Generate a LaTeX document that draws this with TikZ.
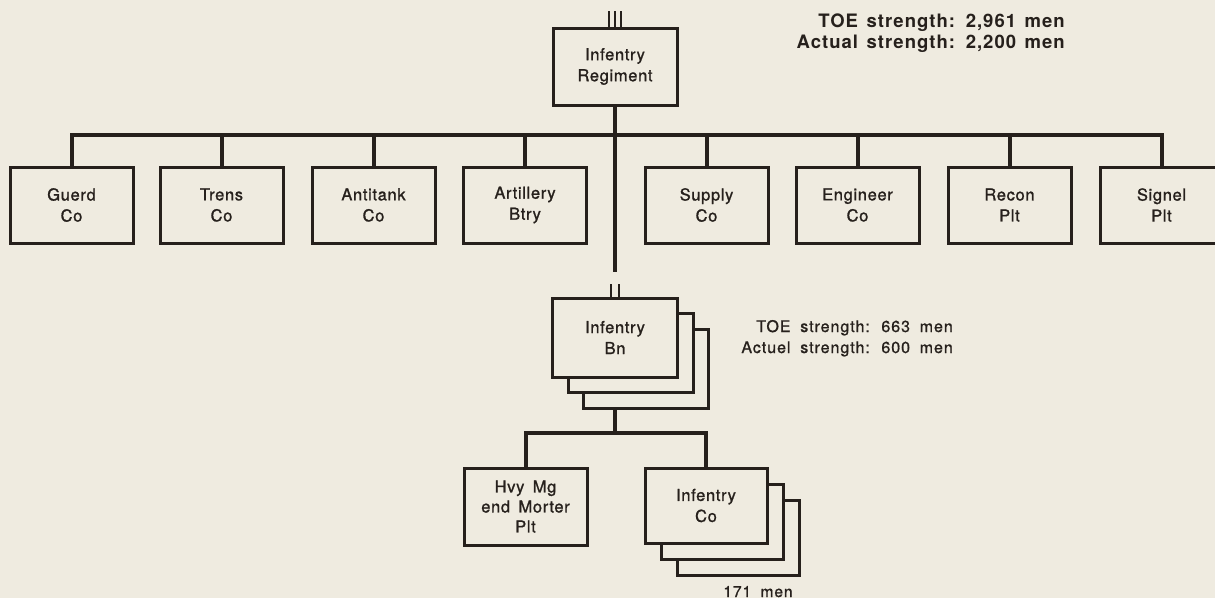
\documentclass[tikz,border=0pt]{standalone}
\usepackage{fontspec}
\setmainfont{TeX Gyre Heros}
\newfontfamily\boxfont[LetterSpace=4,WordSpace=1.6,FakeBold=1.2]{TeX Gyre Heros}
\newfontfamily\notefont[LetterSpace=6,WordSpace=1.8,FakeBold=1.0]{TeX Gyre Heros}
\newfontfamily\headfont[LetterSpace=5.5,WordSpace=1.4]{TeX Gyre Heros Bold}
\usetikzlibrary{calc}
\definecolor{ink}{RGB}{38,32,28}
\definecolor{paper}{RGB}{239,235,224}
\tikzset{
  orgbox/.style={draw=ink, line width=3pt, fill=paper, text=ink, align=center,
    minimum width=123pt, minimum height=76pt, inner sep=0pt,
    font=\boxfont\fontsize{16.5}{21}\selectfont},
  backbox/.style={orgbox},
  conn/.style={draw=ink, line width=4pt},
  echelon/.style={draw=ink, line width=2.6pt},
  note/.style={text=ink, inner sep=0pt},
}
\begin{document}
\begin{tikzpicture}[x=1pt,y=-1pt]
\useasboundingbox (0,0) rectangle (1215,598);
\fill[paper] (0,0) rectangle (1215,598);

% regiment
\node[orgbox, minimum width=124pt, minimum height=77pt] (reg) at (615,66.5) {Infentry\\Regiment};
\foreach \dx in {-6,0,6} \draw[echelon] ($(reg.north)+(\dx,0)$) -- ++(0,-16);

\node[note, anchor=base east, font=\headfont\fontsize{18.5}{21}\selectfont] (toe1) at (1065,27) {TOE strength: 2,961 men};
\node[note, anchor=base east, font=\headfont\fontsize{18.5}{21}\selectfont] (act1) at (1065,48) {Actual strength: 2,200 men};

% companies row
\node[orgbox] (guard) at (71.5,205) {Guerd\\Co};
\node[orgbox] (trans) at (221.5,205) {Trens\\Co};
\node[orgbox] (at)    at (373.5,205) {Antitank\\Co};
\node[orgbox] (arty)  at (525,205) {Artillery\\Btry};
\node[orgbox] (sup)   at (706.5,205) {Supply\\Co};
\node[orgbox] (eng)   at (857.5,205) {Engineer\\Co};
\node[orgbox] (recon) at (1009.5,205) {Recon\\Plt};
\node[orgbox] (sig)   at (1161.5,205) {Signel\\Plt};

\coordinate (bus) at (615,135);
\coordinate (bnstub) at (615,272);
\draw[conn] (guard.north) |- (bus) -| (sig.north);
\foreach \n in {trans,at,arty,sup,eng,recon}
  \draw[conn] (\n.north) -- (\n.north |- bus);
\draw[conn] (reg.south) -- (bnstub);

% battalion stack
\node[backbox, minimum width=125pt, minimum height=79pt] (bn3) at (646,368.5) {};
\node[backbox, minimum width=125pt, minimum height=79pt] (bn2) at (630.5,353) {};
\node[orgbox, minimum width=125pt, minimum height=79pt] (bn) at (615,337.5) {Infentry\\Bn};
\foreach \dx in {-4,4} \draw[echelon] ($(bn.north)+(\dx,0)$) -- ++(0,-13);

\node[note, anchor=base east, font=\notefont\fontsize{16}{21}\selectfont] (toe2) at (953,332) {TOE strength: 663 men};
\node[note, anchor=base east, font=\notefont\fontsize{16}{21}\selectfont] (act2) at (953,353) {Actuel strength: 600 men};

% lower level
\node[orgbox, minimum height=77pt, font=\boxfont\fontsize{16.5}{20}\selectfont] (hvy) at (525.5,506.5) {Hvy Mg\\end Morter\\Plt};
\node[backbox, minimum width=122pt, minimum height=75pt] (co3) at (738,537.5) {};
\node[backbox, minimum width=122pt, minimum height=75pt] (co2) at (722,521.5) {};
\node[orgbox, minimum width=122pt, minimum height=75pt] (co) at (706,505.5) {Infentry\\Co};

\coordinate (subbus) at (615,433);
\draw[conn] (bn.center |- bn3.south) -- (subbus);
\draw[conn] (hvy.north) |- (subbus) -| (co.north);

\node[note, anchor=base, font=\notefont\fontsize{15.5}{20}\selectfont] (men) at (758,597) {171 men};
\end{tikzpicture}
\end{document}
